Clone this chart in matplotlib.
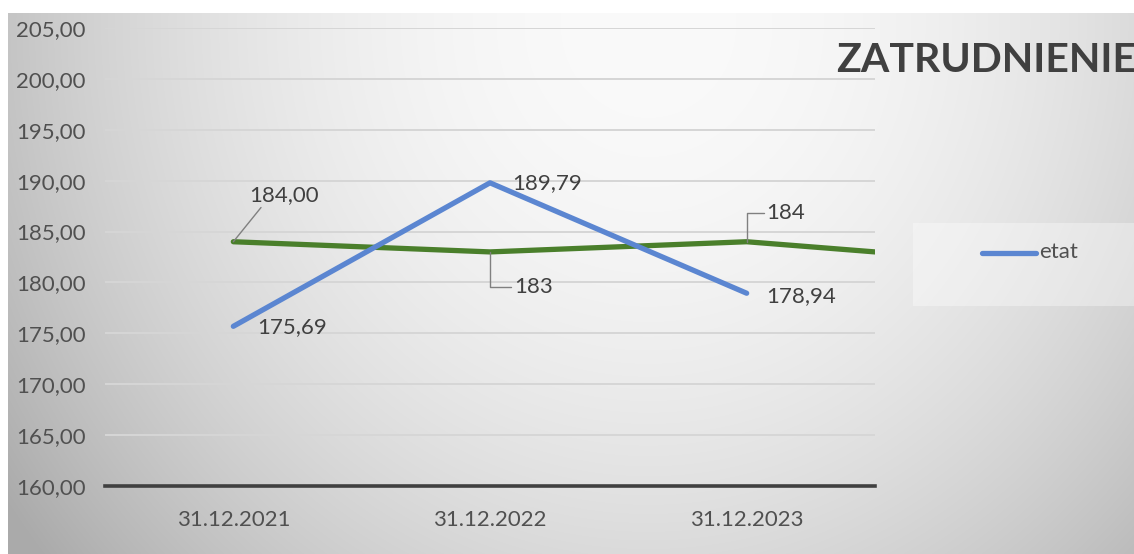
import numpy as np
import matplotlib
matplotlib.use('Agg')
import matplotlib.pyplot as plt
from matplotlib.patches import Rectangle
from matplotlib.lines import Line2D

plt.rcParams['font.family'] = ['Lato', 'DejaVu Sans']

categories = ['31.12.2021', '31.12.2022', '31.12.2023']
etat = [175.69, 189.79, 178.94]
etat_labels = ['175,69', '189,79', '178,94']
# green series runs one step past the last category and is cut at the plot edge
people = [184, 183, 184, 182]
people_labels = ['184,00', '183', '184']
y_ticks = np.arange(160, 206, 5)

W, H = 1134, 554
fig = plt.figure(figsize=(W / 100, H / 100), dpi=100)

# radial grey background
bg = fig.add_axes([8 / W, 0, 1 - 8 / W, 1 - 13 / H], zorder=-2)
yy, xx = np.mgrid[0:541, 0:1126]
r2 = ((xx - 640) / 650.0) ** 2 + ((yy - 10) / 700.0) ** 2
shade = np.clip(250 - 55 * r2, 170, 250) / 255.0
bg.imshow(np.dstack([shade] * 3), aspect='auto', interpolation='bilinear')
bg.axis('off')

ax = fig.add_axes([105 / W, 1 - 486 / H, (875 - 105) / W, (486 - 28) / H])
ax.set_facecolor('none')
x = np.arange(len(people))
ax.plot(x, people, color='#4a7f2b', lw=3.8, solid_capstyle='round', zorder=3)
ax.plot(np.arange(len(etat)), etat, color='#5b86d1', lw=3.8, solid_capstyle='round', zorder=4)

ax.set_xlim(-0.5, 2.5)
ax.set_ylim(160, 205)
ax.set_yticks(y_ticks)
ax.set_yticklabels([f'{v:.2f}'.replace('.', ',') for v in y_ticks])
ax.set_xticks(range(len(categories)))
ax.set_xticklabels(categories)
ax.tick_params(length=0, labelsize=16, colors='#505050')
ax.tick_params(axis='y', pad=14)
ax.tick_params(axis='x', pad=17)
ax.grid(axis='y', color='#d6d6d6', lw=1.4)
for s in ['top', 'right', 'left']:
    ax.spines[s].set_visible(False)
ax.spines['bottom'].set_color('#404040')
ax.spines['bottom'].set_linewidth(2.6)
ax.spines['bottom'].set_zorder(5)

txt = dict(fontsize=16, color='#404040', textcoords='offset pixels', va='center', ha='left')
lead = dict(arrowstyle='-', color='#808080', lw=1, shrinkA=0, shrinkB=0)

# blue labels
offsets_etat = [(24, -1), (22, 0), (20, -3)]
for i, (v, lab) in enumerate(zip(etat, etat_labels)):
    ax.annotate(lab, (i, v), xytext=offsets_etat[i], zorder=6, **txt)

# green labels with leader lines
ax.annotate(people_labels[0], (0, people[0]), xytext=(16, 47), zorder=6,
            arrowprops=dict(relpos=(0.2, 0.0), **lead), **txt)
ax.annotate(people_labels[1], (1, people[1]), xytext=(24, -35), zorder=6,
            arrowprops=dict(relpos=(0, 0.5), connectionstyle='angle,angleA=0,angleB=90,rad=0', **lead), **txt)
ax.annotate(people_labels[2], (2, people[2]), xytext=(20, 29), zorder=6,
            arrowprops=dict(relpos=(0, 0.5), connectionstyle='angle,angleA=0,angleB=90,rad=0', **lead), **txt)

# title
fig.text(836 / W, 1 - 61 / H, 'ZATRUDNIENIE', fontsize=29.5, fontweight='bold',
         color='#404040', ha='left', va='center')

# legend box
fig.patches.append(Rectangle((913 / W, 1 - 306 / H), (W - 913) / W, 83 / H,
                             transform=fig.transFigure, facecolor='white', alpha=0.35,
                             edgecolor='none', zorder=-1))
fig.lines.append(Line2D([982 / W, 1036 / W], [1 - 253 / H] * 2, transform=fig.transFigure,
                        color='#5b86d1', lw=3.8, solid_capstyle='round'))
fig.text(1039 / W, 1 - 252 / H, 'etat', fontsize=16, color='#505050', ha='left', va='center')

fig.savefig('out.png', dpi=100)
